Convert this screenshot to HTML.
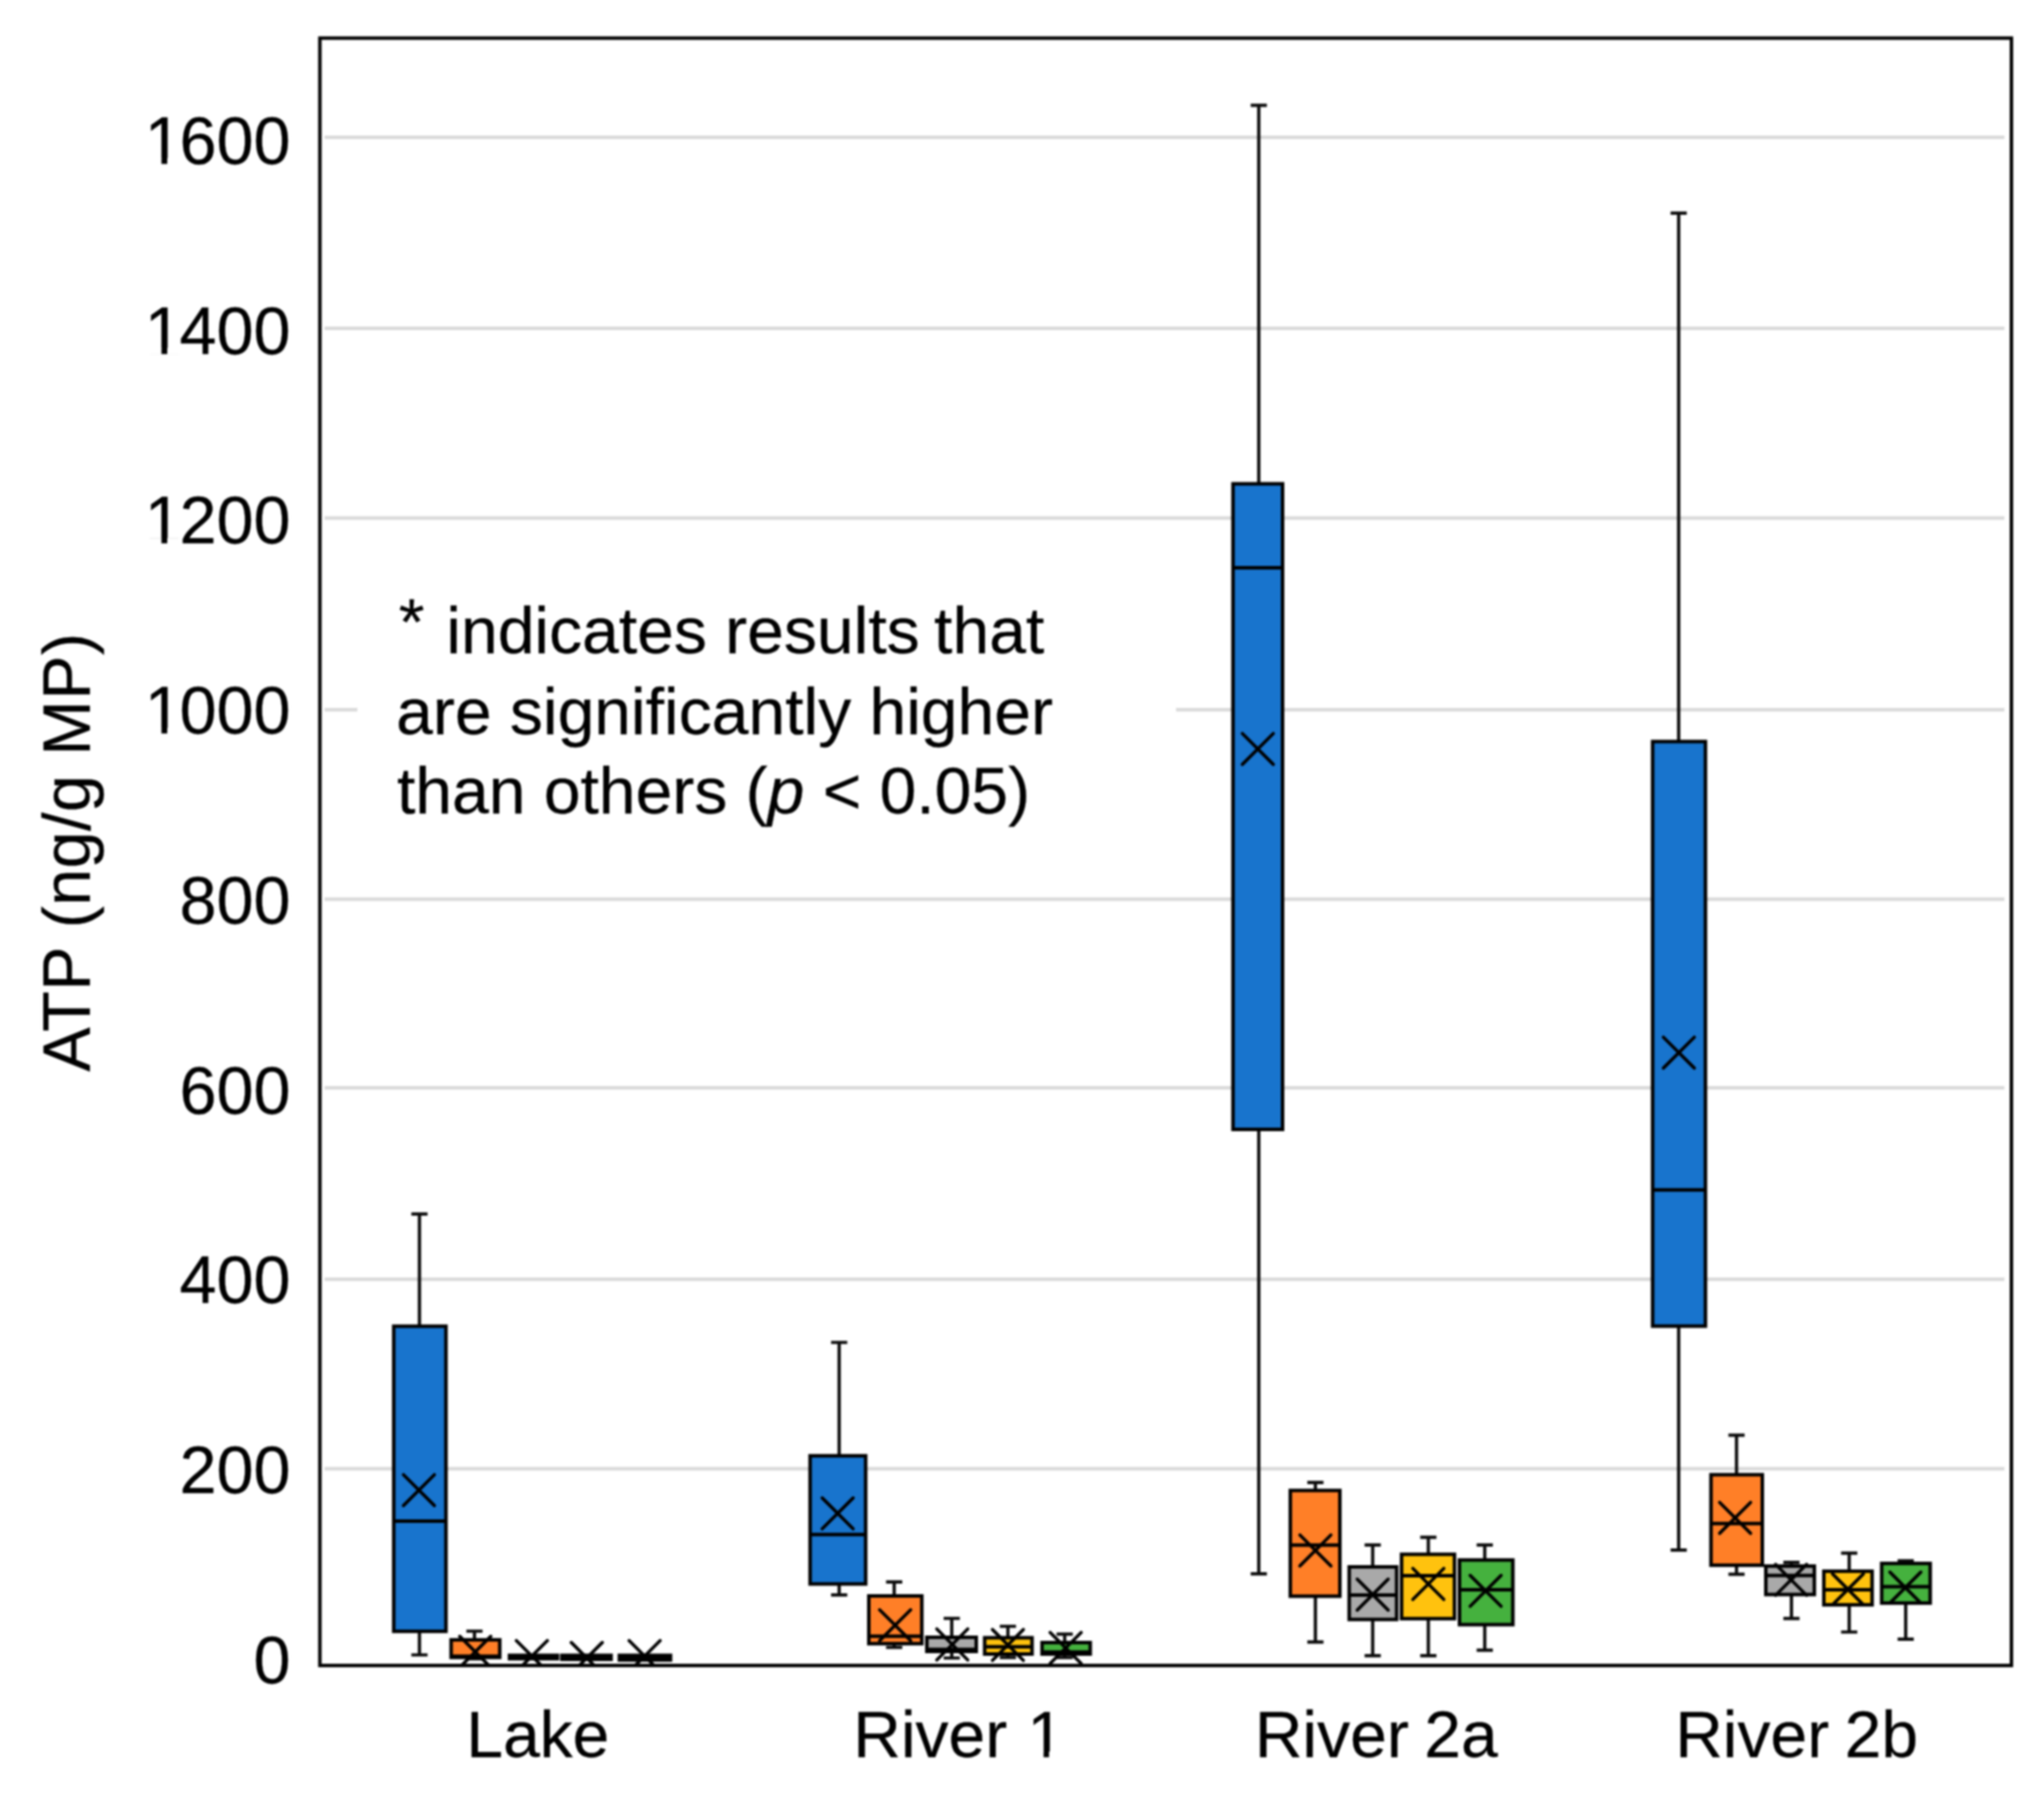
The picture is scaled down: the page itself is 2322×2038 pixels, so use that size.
<!DOCTYPE html>
<html lang="en"><head><meta charset="utf-8"><title>ATP box plot</title>
<style>html,body{margin:0;padding:0;background:#fff;}body{width:2322px;height:2038px;overflow:hidden;}svg{display:block;filter:blur(1.1px);}text{font-family:"Liberation Sans",Arial,sans-serif;fill:#000;stroke:#000;stroke-width:0.3px;}</style>
</head><body>
<svg width="2322" height="2038" viewBox="0 0 2322 2038">
<rect x="0" y="0" width="2322" height="2038" fill="#fff"/>
<g stroke="#D9D9D9" stroke-width="4" fill="none">
<line x1="368.8" y1="1668.4" x2="2277.0" y2="1668.4"/>
<line x1="368.8" y1="1453.3" x2="2277.0" y2="1453.3"/>
<line x1="368.8" y1="1235.8" x2="2277.0" y2="1235.8"/>
<line x1="368.8" y1="1021.6" x2="2277.0" y2="1021.6"/>
<line x1="368.8" y1="806.2" x2="2277.0" y2="806.2"/>
<line x1="368.8" y1="588.5" x2="2277.0" y2="588.5"/>
<line x1="368.8" y1="373.0" x2="2277.0" y2="373.0"/>
<line x1="368.8" y1="156.1" x2="2277.0" y2="156.1"/>
</g>
<rect x="406" y="640" width="930" height="330" fill="#fff"/>
<defs><clipPath id="pc"><rect x="363.4" y="43.3" width="1921.6" height="1848.7"/></clipPath></defs>
<g clip-path="url(#pc)">
<g stroke="#0a0a0a" stroke-width="3.7" fill="none">
<line x1="476.5" y1="1379.2" x2="476.5" y2="1506.6"/>
<line x1="467.3" y1="1379.2" x2="485.7" y2="1379.2"/>
<line x1="476.5" y1="1853.2" x2="476.5" y2="1880.0"/>
<line x1="467.3" y1="1880.0" x2="485.7" y2="1880.0"/>
</g>
<rect x="447.3" y="1506.6" width="59.3" height="346.6" fill="#1874CD" stroke="#000" stroke-width="4.0"/>
<line x1="447.3" y1="1728.0" x2="506.6" y2="1728.0" stroke="#000" stroke-width="4.0"/>
<path d="M458.3 1675.2L493.5 1710.4M458.3 1710.4L493.5 1675.2" stroke="#000" stroke-width="3.7" stroke-linecap="round" fill="none"/>
<g stroke="#0a0a0a" stroke-width="3.7" fill="none">
<line x1="539.0" y1="1853.0" x2="539.0" y2="1862.9"/>
<line x1="529.8" y1="1853.0" x2="548.2" y2="1853.0"/>
<line x1="539.0" y1="1882.8" x2="539.0" y2="1884.5"/>
<line x1="529.8" y1="1884.5" x2="548.2" y2="1884.5"/>
</g>
<rect x="512.5" y="1862.9" width="55.2" height="19.9" fill="#FF7F27" stroke="#000" stroke-width="4.0"/>
<line x1="512.5" y1="1881.6" x2="567.7" y2="1881.6" stroke="#000" stroke-width="4.0"/>
<path d="M522.3 1858.9L557.5 1894.1M522.3 1894.1L557.5 1858.9" stroke="#000" stroke-width="3.7" stroke-linecap="round" fill="none"/>
<g stroke="#0a0a0a" stroke-width="3.7" fill="none">
</g>
<rect x="578.8" y="1880.5" width="54.5" height="3.8" fill="#A9A9A9" stroke="#000" stroke-width="4.0"/>
<line x1="578.8" y1="1882.5" x2="633.3" y2="1882.5" stroke="#000" stroke-width="4.0"/>
<path d="M586.6 1863.7L621.8 1898.9M586.6 1898.9L621.8 1863.7" stroke="#000" stroke-width="3.7" stroke-linecap="round" fill="none"/>
<g stroke="#0a0a0a" stroke-width="3.7" fill="none">
</g>
<rect x="638.3" y="1880.5" width="55.9" height="4.5" fill="#FFC20E" stroke="#000" stroke-width="4.0"/>
<line x1="638.3" y1="1883.0" x2="694.2" y2="1883.0" stroke="#000" stroke-width="4.0"/>
<path d="M649.0 1865.9L684.2 1901.1M649.0 1901.1L684.2 1865.9" stroke="#000" stroke-width="3.7" stroke-linecap="round" fill="none"/>
<g stroke="#0a0a0a" stroke-width="3.7" fill="none">
</g>
<rect x="703.6" y="1880.5" width="58.1" height="5.3" fill="#45B13E" stroke="#000" stroke-width="4.0"/>
<line x1="703.6" y1="1883.0" x2="761.7" y2="1883.0" stroke="#000" stroke-width="4.0"/>
<path d="M714.7 1863.7L749.9 1898.9M714.7 1898.9L749.9 1863.7" stroke="#000" stroke-width="3.7" stroke-linecap="round" fill="none"/>
<g stroke="#0a0a0a" stroke-width="3.7" fill="none">
<line x1="953.3" y1="1525.0" x2="953.3" y2="1653.8"/>
<line x1="944.1" y1="1525.0" x2="962.5" y2="1525.0"/>
<line x1="953.3" y1="1799.4" x2="953.3" y2="1811.9"/>
<line x1="944.1" y1="1811.9" x2="962.5" y2="1811.9"/>
</g>
<rect x="920.3" y="1653.8" width="63.1" height="145.6" fill="#1874CD" stroke="#000" stroke-width="4.0"/>
<line x1="920.3" y1="1743.3" x2="983.4" y2="1743.3" stroke="#000" stroke-width="4.0"/>
<path d="M934.0 1701.6L969.2 1736.8M934.0 1736.8L969.2 1701.6" stroke="#000" stroke-width="3.7" stroke-linecap="round" fill="none"/>
<g stroke="#0a0a0a" stroke-width="3.7" fill="none">
<line x1="1015.8" y1="1797.1" x2="1015.8" y2="1813.0"/>
<line x1="1006.6" y1="1797.1" x2="1025.0" y2="1797.1"/>
<line x1="1015.8" y1="1867.2" x2="1015.8" y2="1871.5"/>
<line x1="1006.6" y1="1871.5" x2="1025.0" y2="1871.5"/>
</g>
<rect x="987.0" y="1813.0" width="60.2" height="54.2" fill="#FF7F27" stroke="#000" stroke-width="4.0"/>
<line x1="987.0" y1="1858.7" x2="1047.2" y2="1858.7" stroke="#000" stroke-width="4.0"/>
<path d="M999.3 1828.7L1034.5 1863.9M999.3 1863.9L1034.5 1828.7" stroke="#000" stroke-width="3.7" stroke-linecap="round" fill="none"/>
<g stroke="#0a0a0a" stroke-width="3.7" fill="none">
<line x1="1081.2" y1="1838.5" x2="1081.2" y2="1860.0"/>
<line x1="1072.0" y1="1838.5" x2="1090.4" y2="1838.5"/>
<line x1="1081.2" y1="1876.0" x2="1081.2" y2="1883.5"/>
<line x1="1072.0" y1="1883.5" x2="1090.4" y2="1883.5"/>
</g>
<rect x="1052.9" y="1860.0" width="56.1" height="16.0" fill="#A9A9A9" stroke="#000" stroke-width="4.0"/>
<line x1="1052.9" y1="1873.8" x2="1109.0" y2="1873.8" stroke="#000" stroke-width="4.0"/>
<path d="M1064.2 1850.5L1099.4 1885.7M1064.2 1885.7L1099.4 1850.5" stroke="#000" stroke-width="3.7" stroke-linecap="round" fill="none"/>
<g stroke="#0a0a0a" stroke-width="3.7" fill="none">
<line x1="1145.0" y1="1847.5" x2="1145.0" y2="1860.5"/>
<line x1="1135.8" y1="1847.5" x2="1154.2" y2="1847.5"/>
<line x1="1145.0" y1="1879.0" x2="1145.0" y2="1883.0"/>
<line x1="1135.8" y1="1883.0" x2="1154.2" y2="1883.0"/>
</g>
<rect x="1118.6" y="1860.5" width="53.8" height="18.5" fill="#FFC20E" stroke="#000" stroke-width="4.0"/>
<line x1="1118.6" y1="1870.8" x2="1172.4" y2="1870.8" stroke="#000" stroke-width="4.0"/>
<path d="M1127.4 1851.1L1162.6 1886.3M1127.4 1886.3L1162.6 1851.1" stroke="#000" stroke-width="3.7" stroke-linecap="round" fill="none"/>
<g stroke="#0a0a0a" stroke-width="3.7" fill="none">
<line x1="1209.5" y1="1856.3" x2="1209.5" y2="1866.0"/>
<line x1="1200.3" y1="1856.3" x2="1218.7" y2="1856.3"/>
<line x1="1209.5" y1="1879.0" x2="1209.5" y2="1883.0"/>
<line x1="1200.3" y1="1883.0" x2="1218.7" y2="1883.0"/>
</g>
<rect x="1183.8" y="1866.0" width="54.7" height="13.0" fill="#45B13E" stroke="#000" stroke-width="4.0"/>
<line x1="1183.8" y1="1876.8" x2="1238.5" y2="1876.8" stroke="#000" stroke-width="4.0"/>
<path d="M1193.0 1854.5L1228.2 1889.7M1193.0 1889.7L1228.2 1854.5" stroke="#000" stroke-width="3.7" stroke-linecap="round" fill="none"/>
<g stroke="#0a0a0a" stroke-width="3.7" fill="none">
<line x1="1430.0" y1="119.7" x2="1430.0" y2="549.6"/>
<line x1="1420.8" y1="119.7" x2="1439.2" y2="119.7"/>
<line x1="1430.0" y1="1283.0" x2="1430.0" y2="1787.9"/>
<line x1="1420.8" y1="1787.9" x2="1439.2" y2="1787.9"/>
</g>
<rect x="1400.7" y="549.6" width="56.3" height="733.4" fill="#1874CD" stroke="#000" stroke-width="4.0"/>
<line x1="1400.7" y1="645.1" x2="1457.0" y2="645.1" stroke="#000" stroke-width="4.0"/>
<path d="M1411.3 833.2L1446.5 868.4M1411.3 868.4L1446.5 833.2" stroke="#000" stroke-width="3.7" stroke-linecap="round" fill="none"/>
<g stroke="#0a0a0a" stroke-width="3.7" fill="none">
<line x1="1494.3" y1="1684.2" x2="1494.3" y2="1693.2"/>
<line x1="1485.1" y1="1684.2" x2="1503.5" y2="1684.2"/>
<line x1="1494.3" y1="1813.3" x2="1494.3" y2="1865.4"/>
<line x1="1485.1" y1="1865.4" x2="1503.5" y2="1865.4"/>
</g>
<rect x="1465.8" y="1693.2" width="56.3" height="120.1" fill="#FF7F27" stroke="#000" stroke-width="4.0"/>
<line x1="1465.8" y1="1755.2" x2="1522.1" y2="1755.2" stroke="#000" stroke-width="4.0"/>
<path d="M1476.7 1743.7L1511.9 1778.9M1476.7 1778.9L1511.9 1743.7" stroke="#000" stroke-width="3.7" stroke-linecap="round" fill="none"/>
<g stroke="#0a0a0a" stroke-width="3.7" fill="none">
<line x1="1559.4" y1="1755.2" x2="1559.4" y2="1780.0"/>
<line x1="1550.2" y1="1755.2" x2="1568.6" y2="1755.2"/>
<line x1="1559.4" y1="1839.7" x2="1559.4" y2="1880.9"/>
<line x1="1550.2" y1="1880.9" x2="1568.6" y2="1880.9"/>
</g>
<rect x="1532.7" y="1780.0" width="53.9" height="59.7" fill="#A9A9A9" stroke="#000" stroke-width="4.0"/>
<line x1="1532.7" y1="1812.1" x2="1586.6" y2="1812.1" stroke="#000" stroke-width="4.0"/>
<path d="M1541.8 1793.9L1577.0 1829.1M1541.8 1829.1L1577.0 1793.9" stroke="#000" stroke-width="3.7" stroke-linecap="round" fill="none"/>
<g stroke="#0a0a0a" stroke-width="3.7" fill="none">
<line x1="1622.6" y1="1746.4" x2="1622.6" y2="1765.7"/>
<line x1="1613.4" y1="1746.4" x2="1631.8" y2="1746.4"/>
<line x1="1622.6" y1="1838.8" x2="1622.6" y2="1880.9"/>
<line x1="1613.4" y1="1880.9" x2="1631.8" y2="1880.9"/>
</g>
<rect x="1592.2" y="1765.7" width="60.1" height="73.1" fill="#FFC20E" stroke="#000" stroke-width="4.0"/>
<line x1="1592.2" y1="1790.1" x2="1652.3" y2="1790.1" stroke="#000" stroke-width="4.0"/>
<path d="M1605.0 1781.8L1640.2 1817.0M1605.0 1817.0L1640.2 1781.8" stroke="#000" stroke-width="3.7" stroke-linecap="round" fill="none"/>
<g stroke="#0a0a0a" stroke-width="3.7" fill="none">
<line x1="1686.7" y1="1755.2" x2="1686.7" y2="1772.2"/>
<line x1="1677.5" y1="1755.2" x2="1695.9" y2="1755.2"/>
<line x1="1686.7" y1="1845.6" x2="1686.7" y2="1874.7"/>
<line x1="1677.5" y1="1874.7" x2="1695.9" y2="1874.7"/>
</g>
<rect x="1658.0" y="1772.2" width="60.6" height="73.4" fill="#45B13E" stroke="#000" stroke-width="4.0"/>
<line x1="1658.0" y1="1805.9" x2="1718.6" y2="1805.9" stroke="#000" stroke-width="4.0"/>
<path d="M1670.1 1789.6L1705.3 1824.8M1670.1 1824.8L1705.3 1789.6" stroke="#000" stroke-width="3.7" stroke-linecap="round" fill="none"/>
<g stroke="#0a0a0a" stroke-width="3.7" fill="none">
<line x1="1907.0" y1="242.1" x2="1907.0" y2="842.4"/>
<line x1="1897.8" y1="242.1" x2="1916.2" y2="242.1"/>
<line x1="1907.0" y1="1506.5" x2="1907.0" y2="1760.9"/>
<line x1="1897.8" y1="1760.9" x2="1916.2" y2="1760.9"/>
</g>
<rect x="1877.4" y="842.4" width="60.0" height="664.1" fill="#1874CD" stroke="#000" stroke-width="4.0"/>
<line x1="1877.4" y1="1351.7" x2="1937.4" y2="1351.7" stroke="#000" stroke-width="4.0"/>
<path d="M1889.6 1178.2L1924.8 1213.4M1889.6 1213.4L1924.8 1178.2" stroke="#000" stroke-width="3.7" stroke-linecap="round" fill="none"/>
<g stroke="#0a0a0a" stroke-width="3.7" fill="none">
<line x1="1972.7" y1="1630.3" x2="1972.7" y2="1675.3"/>
<line x1="1963.5" y1="1630.3" x2="1981.9" y2="1630.3"/>
<line x1="1972.7" y1="1778.1" x2="1972.7" y2="1788.3"/>
<line x1="1963.5" y1="1788.3" x2="1981.9" y2="1788.3"/>
</g>
<rect x="1943.7" y="1675.3" width="58.3" height="102.8" fill="#FF7F27" stroke="#000" stroke-width="4.0"/>
<line x1="1943.7" y1="1730.7" x2="2002.0" y2="1730.7" stroke="#000" stroke-width="4.0"/>
<path d="M1953.5 1706.7L1988.7 1741.9M1953.5 1741.9L1988.7 1706.7" stroke="#000" stroke-width="3.7" stroke-linecap="round" fill="none"/>
<g stroke="#0a0a0a" stroke-width="3.7" fill="none">
<line x1="2035.1" y1="1774.8" x2="2035.1" y2="1779.1"/>
<line x1="2025.9" y1="1774.8" x2="2044.3" y2="1774.8"/>
<line x1="2035.1" y1="1811.4" x2="2035.1" y2="1838.7"/>
<line x1="2025.9" y1="1838.7" x2="2044.3" y2="1838.7"/>
</g>
<rect x="2006.0" y="1779.1" width="55.1" height="32.3" fill="#A9A9A9" stroke="#000" stroke-width="4.0"/>
<line x1="2006.0" y1="1789.8" x2="2061.1" y2="1789.8" stroke="#000" stroke-width="4.0"/>
<path d="M2017.1 1777.1L2052.3 1812.3M2017.1 1812.3L2052.3 1777.1" stroke="#000" stroke-width="3.7" stroke-linecap="round" fill="none"/>
<g stroke="#0a0a0a" stroke-width="3.7" fill="none">
<line x1="2100.7" y1="1764.4" x2="2100.7" y2="1784.9"/>
<line x1="2091.5" y1="1764.4" x2="2109.9" y2="1764.4"/>
<line x1="2100.7" y1="1823.1" x2="2100.7" y2="1854.0"/>
<line x1="2091.5" y1="1854.0" x2="2109.9" y2="1854.0"/>
</g>
<rect x="2071.9" y="1784.9" width="54.8" height="38.2" fill="#FFC20E" stroke="#000" stroke-width="4.0"/>
<line x1="2071.9" y1="1805.9" x2="2126.7" y2="1805.9" stroke="#000" stroke-width="4.0"/>
<path d="M2081.7 1787.9L2116.9 1823.1M2081.7 1823.1L2116.9 1787.9" stroke="#000" stroke-width="3.7" stroke-linecap="round" fill="none"/>
<g stroke="#0a0a0a" stroke-width="3.7" fill="none">
<line x1="2164.9" y1="1773.2" x2="2164.9" y2="1776.1"/>
<line x1="2155.7" y1="1773.2" x2="2174.1" y2="1773.2"/>
<line x1="2164.9" y1="1821.1" x2="2164.9" y2="1862.2"/>
<line x1="2155.7" y1="1862.2" x2="2174.1" y2="1862.2"/>
</g>
<rect x="2137.6" y="1776.1" width="55.1" height="45.0" fill="#45B13E" stroke="#000" stroke-width="4.0"/>
<line x1="2137.6" y1="1802.5" x2="2192.7" y2="1802.5" stroke="#000" stroke-width="4.0"/>
<path d="M2146.9 1785.9L2182.1 1821.1M2146.9 1821.1L2182.1 1785.9" stroke="#000" stroke-width="3.7" stroke-linecap="round" fill="none"/>
</g>
<rect x="363.4" y="43.3" width="1921.6" height="1848.7" fill="none" stroke="#000" stroke-width="3.9"/>
<g font-size="75.5" text-anchor="end">
<text x="330" y="1911.9">0</text>
<text x="330" y="1696.2">200</text>
<text x="330" y="1480.4">400</text>
<text x="330" y="1264.7">600</text>
<text x="330" y="1048.9">800</text>
<text x="330" y="833.1">000</text>
<text x="164.5" y="833.1" text-anchor="start">1</text>
<text x="330" y="617.4">200</text>
<text x="164.5" y="617.4" text-anchor="start">1</text>
<text x="330" y="401.6">400</text>
<text x="164.5" y="401.6" text-anchor="start">1</text>
<text x="330" y="185.9">600</text>
<text x="164.5" y="185.9" text-anchor="start">1</text>
</g>
<g font-size="75" text-anchor="middle" word-spacing="-3.2">
<text x="611.0" y="1995.5">Lake</text>
<text x="1563.5" y="1995.5">River 2a</text>
<text x="2041.0" y="1995.5">River 2b</text>
<text x="969.3" y="1995.5" text-anchor="start">River</text>
<text x="1167" y="1995.5" text-anchor="start">1</text>
</g>
<rect x="168.5" y="826.9" width="14.9" height="7.6" fill="#fff"/>
<rect x="190.0" y="826.9" width="13.5" height="7.6" fill="#fff"/>
<rect x="168.5" y="611.1" width="14.9" height="7.6" fill="#fff"/>
<rect x="190.0" y="611.1" width="13.5" height="7.6" fill="#fff"/>
<rect x="168.5" y="395.3" width="14.9" height="7.6" fill="#fff"/>
<rect x="190.0" y="395.3" width="13.5" height="7.6" fill="#fff"/>
<rect x="168.5" y="179.6" width="14.9" height="7.6" fill="#fff"/>
<rect x="190.0" y="179.6" width="13.5" height="7.6" fill="#fff"/>
<rect x="1170.5" y="1989.7" width="15.0" height="8.0" fill="#fff"/>
<rect x="1191.7" y="1989.7" width="15.0" height="8.0" fill="#fff"/>
<text font-size="75.5" letter-spacing="0.5" text-anchor="middle" transform="translate(102.4 968) rotate(-90)">ATP (ng/g MP)</text>
<g font-size="75">
<text x="453" y="742.3"><tspan dy="-10.5">*</tspan><tspan dy="10.5" dx="4"> indicates results</tspan><tspan dx="-4.5"> that</tspan></text>
<text x="450" y="833.8">are significantly higher</text>
<text x="451" y="924">than others (<tspan font-style="italic">p</tspan> &lt; 0.05)</text>
</g>
</svg>
</body></html>
